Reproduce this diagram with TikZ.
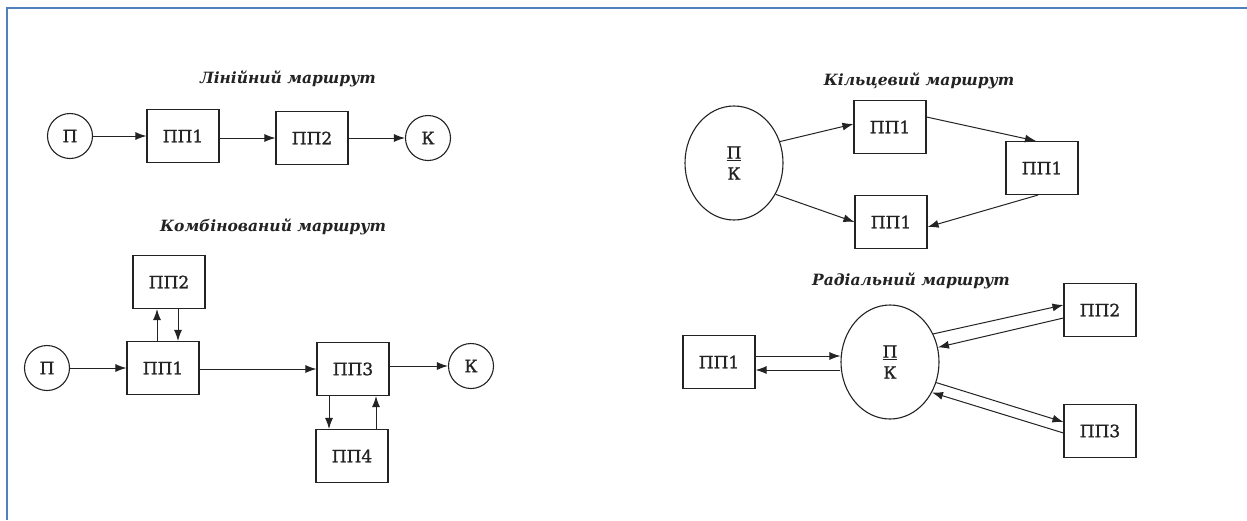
\documentclass[tikz,border=0pt]{standalone}
\usepackage{fontspec}
\setmainfont{DejaVu Serif}
\newfontfamily\lblfont[FakeBold=1.2]{DejaVu Serif}
\usetikzlibrary{arrows.meta,shapes.geometric}
\definecolor{frameblue}{RGB}{79,129,189}
\definecolor{ink}{RGB}{35,35,35}
\begin{document}
\begin{tikzpicture}[x=1pt,y=-1pt,
  box/.style={draw=ink,line width=1.1pt,minimum width=72pt,minimum height=53pt,inner sep=0pt,font=\lblfont\fontsize{17}{20}\selectfont,text=ink},
  circ/.style={draw=ink,line width=1.1pt,circle,minimum size=45pt,inner sep=0pt,font=\lblfont\fontsize{17}{20}\selectfont,text=ink},
  bigc/.style={draw=ink,line width=1.1pt,ellipse,minimum width=98pt,minimum height=114pt,inner sep=0pt,align=center,font=\lblfont\fontsize{17}{17}\selectfont,text=ink},
  ttl/.style={font=\fontsize{15.5}{18}\selectfont\itshape\bfseries,text=ink},
  arr/.style={draw=ink,line width=1pt,-{Latex[length=11pt,width=8pt]}}]
\useasboundingbox (0,0) rectangle (1247,520);
\fill[white] (0,0) rectangle (1247,520);
\draw[frameblue,line width=2.5pt] (7,520) -- (7,8) -- (1247,8);

% Linear route
\node[ttl] (t1) at (288,79) {Лінійний маршрут};
\node[circ] (lp) at (70,136) {П};
\node[box] (l1) at (183,136) {ПП1};
\node[box] (l2) at (312,138) {ПП2};
\node[circ] (lk) at (428,138) {К};
\draw[arr] (lp) -- (l1.west |- lp);
\draw[arr] (l1.east |- l2) -- (l2.west);
\draw[arr] (l2) -- (lk);

% Combined route
\node[ttl] (t2) at (273,227) {Комбінований маршрут};
\node[circ] (cp) at (47,368) {П};
\node[box] (c1) at (163,368) {ПП1};
\node[box] (c2) at (169,282) {ПП2};
\node[box] (c3) at (353,369) {ПП3};
\node[box] (c4) at (352,456) {ПП4};
\node[circ] (ck) at (471,366) {К};
\draw[arr] (cp) -- (c1.west |- cp);
\draw[arr] (c1.east |- c3) -- (c3.west);
\draw[arr] (c3.east |- ck) -- (ck);
\draw[arr] ([xshift=-6pt]c1.north) -- ([xshift=-6pt]c1.north |- c2.south);
\draw[arr] ([xshift=15pt]c1.north |- c2.south) -- ([xshift=15pt]c1.north);
\draw[arr] ([xshift=-24pt]c3.south) -- ([xshift=-24pt]c3.south |- c4.north);
\draw[arr] ([xshift=23pt]c3.south |- c4.north) -- ([xshift=23pt]c3.south);

% Ring route
\node[ttl] (t3) at (919,81) {Кільцевий маршрут};
\node[bigc] (rc) at (734,163) {\underline{П}\\[4pt]К};
\node[box] (r1) at (890,127) {ПП1};
\node[box] (r2) at (1042,168) {ПП1};
\node[box] (r3) at (891,222) {ПП1};
\draw[arr] (rc.25) -- ([yshift=3pt]r1.west);
\draw[arr] ([yshift=10pt]r1.east) -- ([xshift=-6pt]r2.north);
\draw[arr] ([xshift=-4pt]r2.south) -- ([yshift=-5pt]r3.east);
\draw[arr] (rc.-37) -- (r3.west);

% Radial route
\node[ttl] (t4) at (911,281) {Радіальний маршрут};
\node[bigc] (dc) at (890,362) {\underline{П}\\[4pt]К};
\node[box] (d1) at (719,362) {ПП1};
\node[box] (d2) at (1100,310) {ПП2};
\node[box] (d3) at (1100,431) {ПП3};
\draw[arr] ([yshift=6pt]d1.east) -- ([yshift=6pt]dc.west);
\draw[arr] ([yshift=-8pt]dc.west) -- ([yshift=-8pt]d1.east);
\draw[arr] (dc.33) -- ([yshift=5pt]d2.west);
\draw[arr] ([yshift=-8pt]d2.west) -- (dc.17);
\draw[arr] (dc.-24) -- ([yshift=9pt]d3.west);
\draw[arr] ([yshift=-2pt]d3.west) -- (dc.-36);
\end{tikzpicture}
\end{document}
